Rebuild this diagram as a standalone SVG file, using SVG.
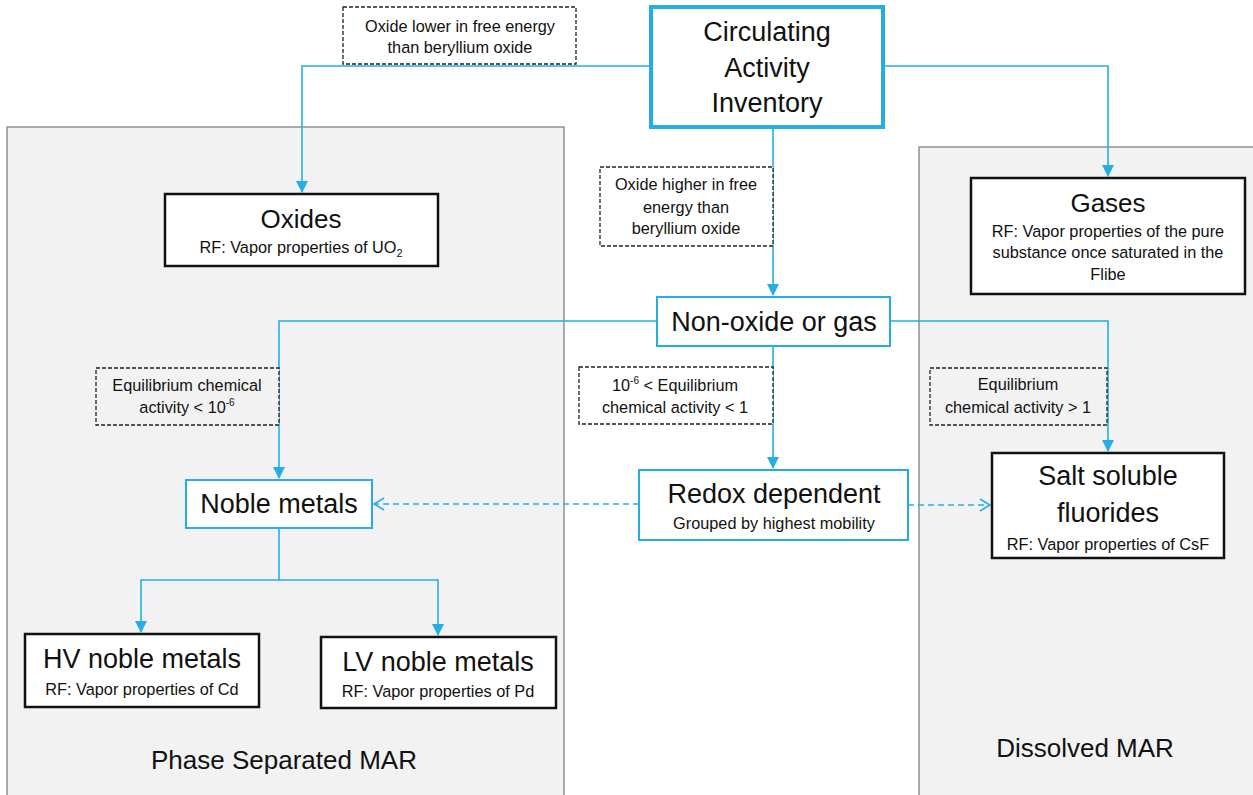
<svg xmlns="http://www.w3.org/2000/svg" width="1253" height="795" viewBox="0 0 1253 795">
<defs>
<style>
text{font-family:"Liberation Sans",Arial,sans-serif;fill:#111;text-anchor:middle}
.big{font-size:27px}
.mid{font-size:26px}
.sm{font-size:16.3px}
.nt{font-size:16.3px}
.panel{fill:#f2f2f2;stroke:#808080;stroke-width:1.3}
.blk{fill:#fff;stroke:#111;stroke-width:2.5}
.blu{fill:#fff;stroke:#25aee5;stroke-width:2}
.note{fill:#fff;stroke:#222;stroke-width:1.3;stroke-dasharray:4 2}
.note2{fill:#f2f2f2;stroke:#222;stroke-width:1.3;stroke-dasharray:4 2}
.c{fill:none;stroke:#25aee5;stroke-width:1.6}
.d{fill:none;stroke:#25aee5;stroke-width:1.6;stroke-dasharray:6 4}
</style>
<marker id="o" markerWidth="12" markerHeight="14" refX="11" refY="7" orient="auto" markerUnits="userSpaceOnUse" viewBox="0 0 12 14"><path d="M1,1 L11,7 L1,13" fill="none" stroke="#25aee5" stroke-width="1.6"/></marker>
<marker id="v" markerWidth="12" markerHeight="12" refX="6" refY="11" orient="0" markerUnits="userSpaceOnUse" viewBox="0 0 12 12"><path d="M0,0 L12,0 L6,12 Z" fill="#25aee5"/></marker>
</defs>
<rect width="1253" height="795" fill="#fff"/>
<g id="panel-phase">
<rect class="panel" x="7" y="127" width="557" height="680"/>
<text class="mid" x="284" y="769">Phase Separated MAR</text>
</g>
<g id="panel-dissolved">
<rect class="panel" x="919" y="147" width="345" height="660"/>
<text class="mid" x="1085" y="757">Dissolved MAR</text>
</g>
<g id="connectors">
<path class="c" d="M650,66 H302 V192" marker-end="url(#v)"/>
<path class="c" d="M883,66 H1108 V176" marker-end="url(#v)"/>
<path class="c" d="M773,127 V295" marker-end="url(#v)"/>
<path class="c" d="M657,321 H279 V478" marker-end="url(#v)"/>
<path class="c" d="M890,321 H1108 V451" marker-end="url(#v)"/>
<path class="c" d="M773,346 V468" marker-end="url(#v)"/>
<path class="c" d="M279,528 V580 H141 V632" marker-end="url(#v)"/>
<path class="c" d="M279,580 H438 V635" marker-end="url(#v)"/>
<path class="d" d="M639,504 H374" marker-end="url(#o)"/>
<path class="d" d="M908,505 H990" marker-end="url(#o)"/>
</g>
<g id="note-lower">
<rect class="note" x="343" y="7" width="233" height="57"/>
<text class="nt" x="460" y="32">Oxide lower in free energy</text>
<text class="nt" x="460" y="53">than beryllium oxide</text>
</g>
<g id="circulating">
<rect x="651" y="7" width="232" height="120" fill="#fff" stroke="#25aee5" stroke-width="4"/>
<text class="big" x="767" y="41">Circulating</text>
<text class="big" x="767" y="77">Activity</text>
<text class="big" x="767" y="112">Inventory</text>
</g>
<g id="oxides">
<rect class="blk" x="165" y="194" width="273" height="72"/>
<text class="mid" x="301" y="228">Oxides</text>
<text class="sm" x="301" y="253">RF: Vapor properties of UO<tspan font-size="11" dy="4">2</tspan></text>
</g>
<g id="gases">
<rect class="blk" x="971" y="178" width="274" height="116"/>
<text class="mid" x="1108" y="212">Gases</text>
<text class="sm" x="1108" y="237">RF: Vapor properties of the pure</text>
<text class="sm" x="1108" y="258">substance once saturated in the</text>
<text class="sm" x="1108" y="280">Flibe</text>
</g>
<g id="note-higher">
<rect class="note" x="600" y="167" width="173" height="79"/>
<text class="nt" x="686" y="190">Oxide higher in free</text>
<text class="nt" x="686" y="213">energy than</text>
<text class="nt" x="686" y="234">beryllium oxide</text>
</g>
<g id="nonoxide">
<rect class="blu" x="657" y="297" width="233" height="49"/>
<text class="big" x="774" y="331">Non-oxide or gas</text>
</g>
<g id="note-low">
<rect class="note2" x="96" y="368" width="183" height="57"/>
<text class="nt" x="187" y="391">Equilibrium chemical</text>
<text class="nt" x="187" y="413">activity &lt; 10<tspan font-size="10" dy="-7">-6</tspan></text>
</g>
<g id="note-mid">
<rect class="note" x="579" y="367" width="194" height="57"/>
<text class="nt" x="675" y="391">10<tspan font-size="10" dy="-7">-6</tspan><tspan dy="7"> &lt; Equilibrium</tspan></text>
<text class="nt" x="675" y="413">chemical activity &lt; 1</text>
</g>
<g id="note-high">
<rect class="note2" x="930" y="368" width="177" height="57"/>
<text class="nt" x="1018" y="390">Equilibrium</text>
<text class="nt" x="1018" y="413">chemical activity &gt; 1</text>
</g>
<g id="noble">
<rect class="blu" x="186" y="480" width="186" height="48"/>
<text class="big" x="279" y="513">Noble metals</text>
</g>
<g id="redox">
<rect class="blu" x="639" y="470" width="269" height="70"/>
<text class="big" x="774" y="503">Redox dependent</text>
<text class="sm" x="774" y="529">Grouped by highest mobility</text>
</g>
<g id="salt">
<rect class="blk" x="992" y="453" width="232" height="105"/>
<text class="big" x="1108" y="485">Salt soluble</text>
<text class="big" x="1108" y="522">fluorides</text>
<text class="sm" x="1108" y="550">RF: Vapor properties of CsF</text>
</g>
<g id="hv">
<rect class="blk" x="25" y="634" width="234" height="73"/>
<text class="big" x="142" y="668">HV noble metals</text>
<text class="sm" x="142" y="695">RF: Vapor properties of Cd</text>
</g>
<g id="lv">
<rect class="blk" x="321" y="637" width="235" height="71"/>
<text class="big" x="438" y="671">LV noble metals</text>
<text class="sm" x="438" y="697">RF: Vapor properties of Pd</text>
</g>
</svg>
